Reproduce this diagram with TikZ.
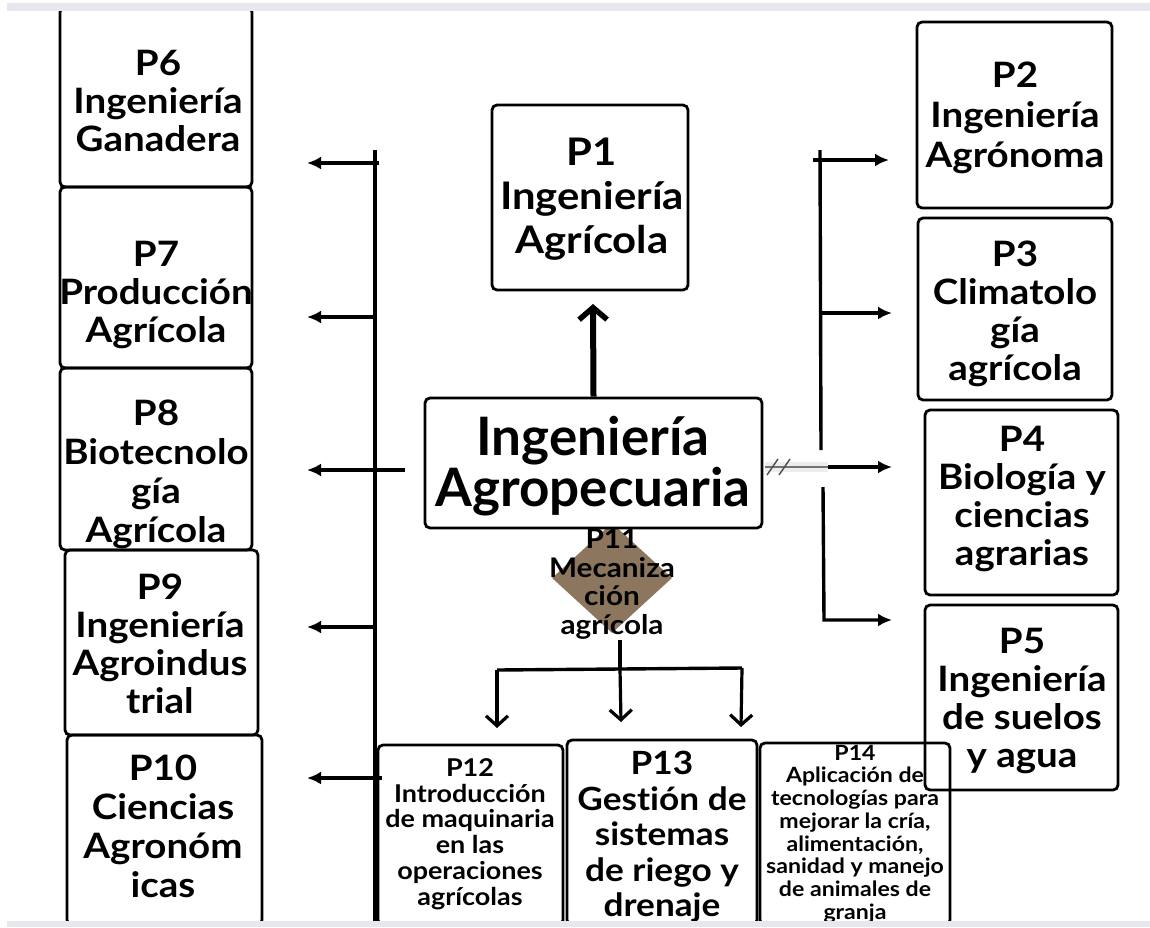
\documentclass[tikz,border=0pt]{standalone}
\usepackage{fontspec}
\setmainfont{Lato}[Ligatures={NoCommon}, FakeStretch=1.1]
\newfontfamily\plainlato{Lato}[Ligatures={NoCommon}]
\usetikzlibrary{arrows.meta,shapes.geometric,calc}
\definecolor{band}{RGB}{230,232,237}
\definecolor{brownd}{RGB}{140,118,94}
\tikzset{
  box/.style={draw, line width=2.8pt, rounded corners=5pt, inner sep=0pt},
  tA/.style={font=\fontsize{35}{38}\selectfont\bfseries, align=center, inner sep=0pt},
  tB/.style={font=\fontsize{38}{44}\selectfont\bfseries, align=center, inner sep=0pt},
  tMain/.style={font=\plainlato\fontsize{53}{51}\selectfont\bfseries, align=center, inner sep=0pt},
  tP11/.style={font=\fontsize{27}{28.5}\selectfont\bfseries, align=center, inner sep=0pt},
  tP12/.style={font=\fontsize{24.5}{25.8}\selectfont\bfseries, align=center, inner sep=0pt},
  tP13/.style={font=\fontsize{32}{35.5}\selectfont\bfseries, align=center, inner sep=0pt},
  tP14/.style={font=\fontsize{21}{22.7}\selectfont\bfseries, align=center, inner sep=0pt},
  trunk/.style={line width=3.4pt},
  sarr/.style={line width=3.4pt, -{Latex[length=14pt,width=13pt]}},
  varr/.style={line width=3.2pt, -{Straight Barb[length=10pt,width=22pt,line width=3.2pt]}},
  uparr/.style={line width=6pt, -{Straight Barb[length=12pt,width=28pt,line width=5.5pt]}}
}
\begin{document}
\begin{tikzpicture}[x=1pt,y=-1pt]
\useasboundingbox (0,0) rectangle (1150,927);
\fill[white] (0,0) rectangle (1150,927);

% left column boxes
\node[box, minimum width=192pt, minimum height=180pt] (p6) at (156,97) {};
\node[box, minimum width=192pt, minimum height=181pt] (p7) at (156,277.5) {};
\node[box, minimum width=192pt, minimum height=182pt] (p8) at (156,459) {};
\node[box, minimum width=193pt, minimum height=185pt] (p9) at (161.5,642.5) {};
\node[box, minimum width=195pt, minimum height=190pt] (p10) at (164.5,830) {};
\node[tA] (p6t) at (158,101) {P6\\Ingeniería\\Ganadera};
\node[tA] (p7t) at (156,295) {P7\\Producción\\Agrícola};
\node[tA, font=\fontsize{35}{39}\selectfont\bfseries] (p8t) at (156,474) {P8\\Biotecnolo\\gía\\Agrícola};
\node[tA] (p9t) at (160,644) {P9\\Ingeniería\\Agroindus\\trial};
\node[tA, font=\fontsize{35}{39}\selectfont\bfseries] (p10t) at (163,826) {P10\\Ciencias\\Agronóm\\icas};

% right column boxes
\node[box, minimum width=195pt, minimum height=186pt] (p2) at (1014.5,115) {};
\node[box, minimum width=194pt, minimum height=182pt] (p3) at (1015,309) {};
\node[box, minimum width=193pt, minimum height=185pt] (p4) at (1021.5,502.5) {};
\node[box, minimum width=193pt, minimum height=185pt] (p5) at (1021.5,697.5) {};
\node[tA, font=\fontsize{35}{40}\selectfont\bfseries] (p2t) at (1015,118) {P2\\Ingeniería\\Agrónoma};
\node[tA] (p3t) at (1015,314) {P3\\Climatolo\\gía\\agrícola};
\node[tA] (p4t) at (1022,499) {P4\\Biología y\\ciencias\\agrarias};
\node[tA] (p5t) at (1022,701) {P5\\Ingeniería\\de suelos\\y agua};

% centre
\node[box, minimum width=196pt, minimum height=185pt] (p1) at (590,197.5) {};
\node[tB] (p1t) at (592,199) {P1\\Ingeniería\\Agrícola};
\node[diamond, fill=brownd, minimum width=120pt, minimum height=110pt, inner sep=0pt] (p11) at (612,578) {};
\node[box, fill=white, minimum width=337pt, minimum height=130pt] (main) at (593.5,463) {};
\node[tMain] (maint) at (593,466) {Ingeniería\\Agropecuaria};
\node[tP11] (p11t) at (612,584) {P11\\Mecaniza\\ción\\agrícola};

% bottom boxes
\node[box, minimum width=185pt, minimum height=180pt] (p12) at (470.5,835) {};
\node[box, minimum width=190pt, minimum height=185pt] (p13) at (662,832.5) {};
\node[box, minimum width=190pt, minimum height=182pt] (p14) at (855,834) {};
\node[tP12] (p12t) at (470,834) {P12\\Introducción\\de maquinaria\\en las\\operaciones\\agrícolas};
\node[tP13] (p13t) at (662,837) {P13\\Gestión de\\sistemas\\de riego y\\drenaje};
\node[tP14] (p14t) at (855,834) {P14\\Aplicación de\\tecnologías para\\mejorar la cría,\\alimentación,\\sanidad y manejo\\de animales de\\granja};

% left trunk and arrows
\coordinate (lt0) at (375,150);
\coordinate (lt1) at (375,927);
\draw[trunk] (lt0) -- (lt1);
\coordinate (la1s) at (379,163); \coordinate (la1e) at (307,163);
\coordinate (la2s) at (376,317); \coordinate (la2e) at (307,317);
\coordinate (la3s) at (405,470); \coordinate (la3e) at (307,470);
\coordinate (la4s) at (376,627); \coordinate (la4e) at (307,627);
\coordinate (la5s) at (382,778); \coordinate (la5e) at (307,778);
\draw[sarr] (la1s) -- (la1e);
\draw[sarr] (la2s) -- (la2e);
\draw[sarr] (la3s) -- (la3e);
\draw[sarr] (la4s) -- (la4e);
\draw[sarr] (la5s) -- (la5e);

% right trunk and arrows
\coordinate (rt0) at (820,150);
\coordinate (rt1) at (821,450);
\coordinate (rt2) at (823,487);
\coordinate (rt3) at (824,620);
\coordinate (ra1s) at (813,160); \coordinate (ra1e) at (889,160);
\coordinate (ra2s) at (821,313); \coordinate (ra2e) at (892,313);
\coordinate (ra3s) at (828,467); \coordinate (ra3e) at (892,467);
\coordinate (ra4e) at (892,620);
\draw[trunk] (rt0) -- (rt1);
\draw[sarr] (rt2) -- (rt3) -- (ra4e);
\draw[sarr] (ra1s) -- (ra1e);
\draw[sarr] (ra2s) -- (ra2e);
\draw[sarr] (ra3s) -- (ra3e);
% broken link from main box
\draw[line width=10pt, black!7] ([xshift=2pt]main.east |- ra3s) -- (ra3s);
\draw[line width=1.3pt, black!55] ([xshift=2pt]main.east |- ra3s) -- (ra3s);
\draw[line width=1.4pt, black!70] (767,475) -- (778,459);
\draw[line width=1.4pt, black!70] (779,475) -- (790,459);

% up arrow to P1
\coordinate (upTip) at (593,304);
\draw[uparr] (main.north) -- (upTip);

% P11 to bottom boxes
\coordinate (s0) at (620,640);
\coordinate (s1) at (620,669);
\coordinate (bl) at (497,670);
\coordinate (br) at (742,668);
\coordinate (d1) at (497,728);
\coordinate (d2) at (621,722);
\coordinate (d3) at (741,727);
\draw[trunk] (s0) -- (s1);
\draw[trunk] (bl) -- (br);
\draw[varr] (bl) -- (d1);
\draw[varr] (s1) -- (d2);
\draw[varr] (br) -- (d3);

% grey bands
\fill[band] (7,3) rectangle (1150,11);
\fill[band] (7,921) rectangle (1150,927);
\end{tikzpicture}
\end{document}
